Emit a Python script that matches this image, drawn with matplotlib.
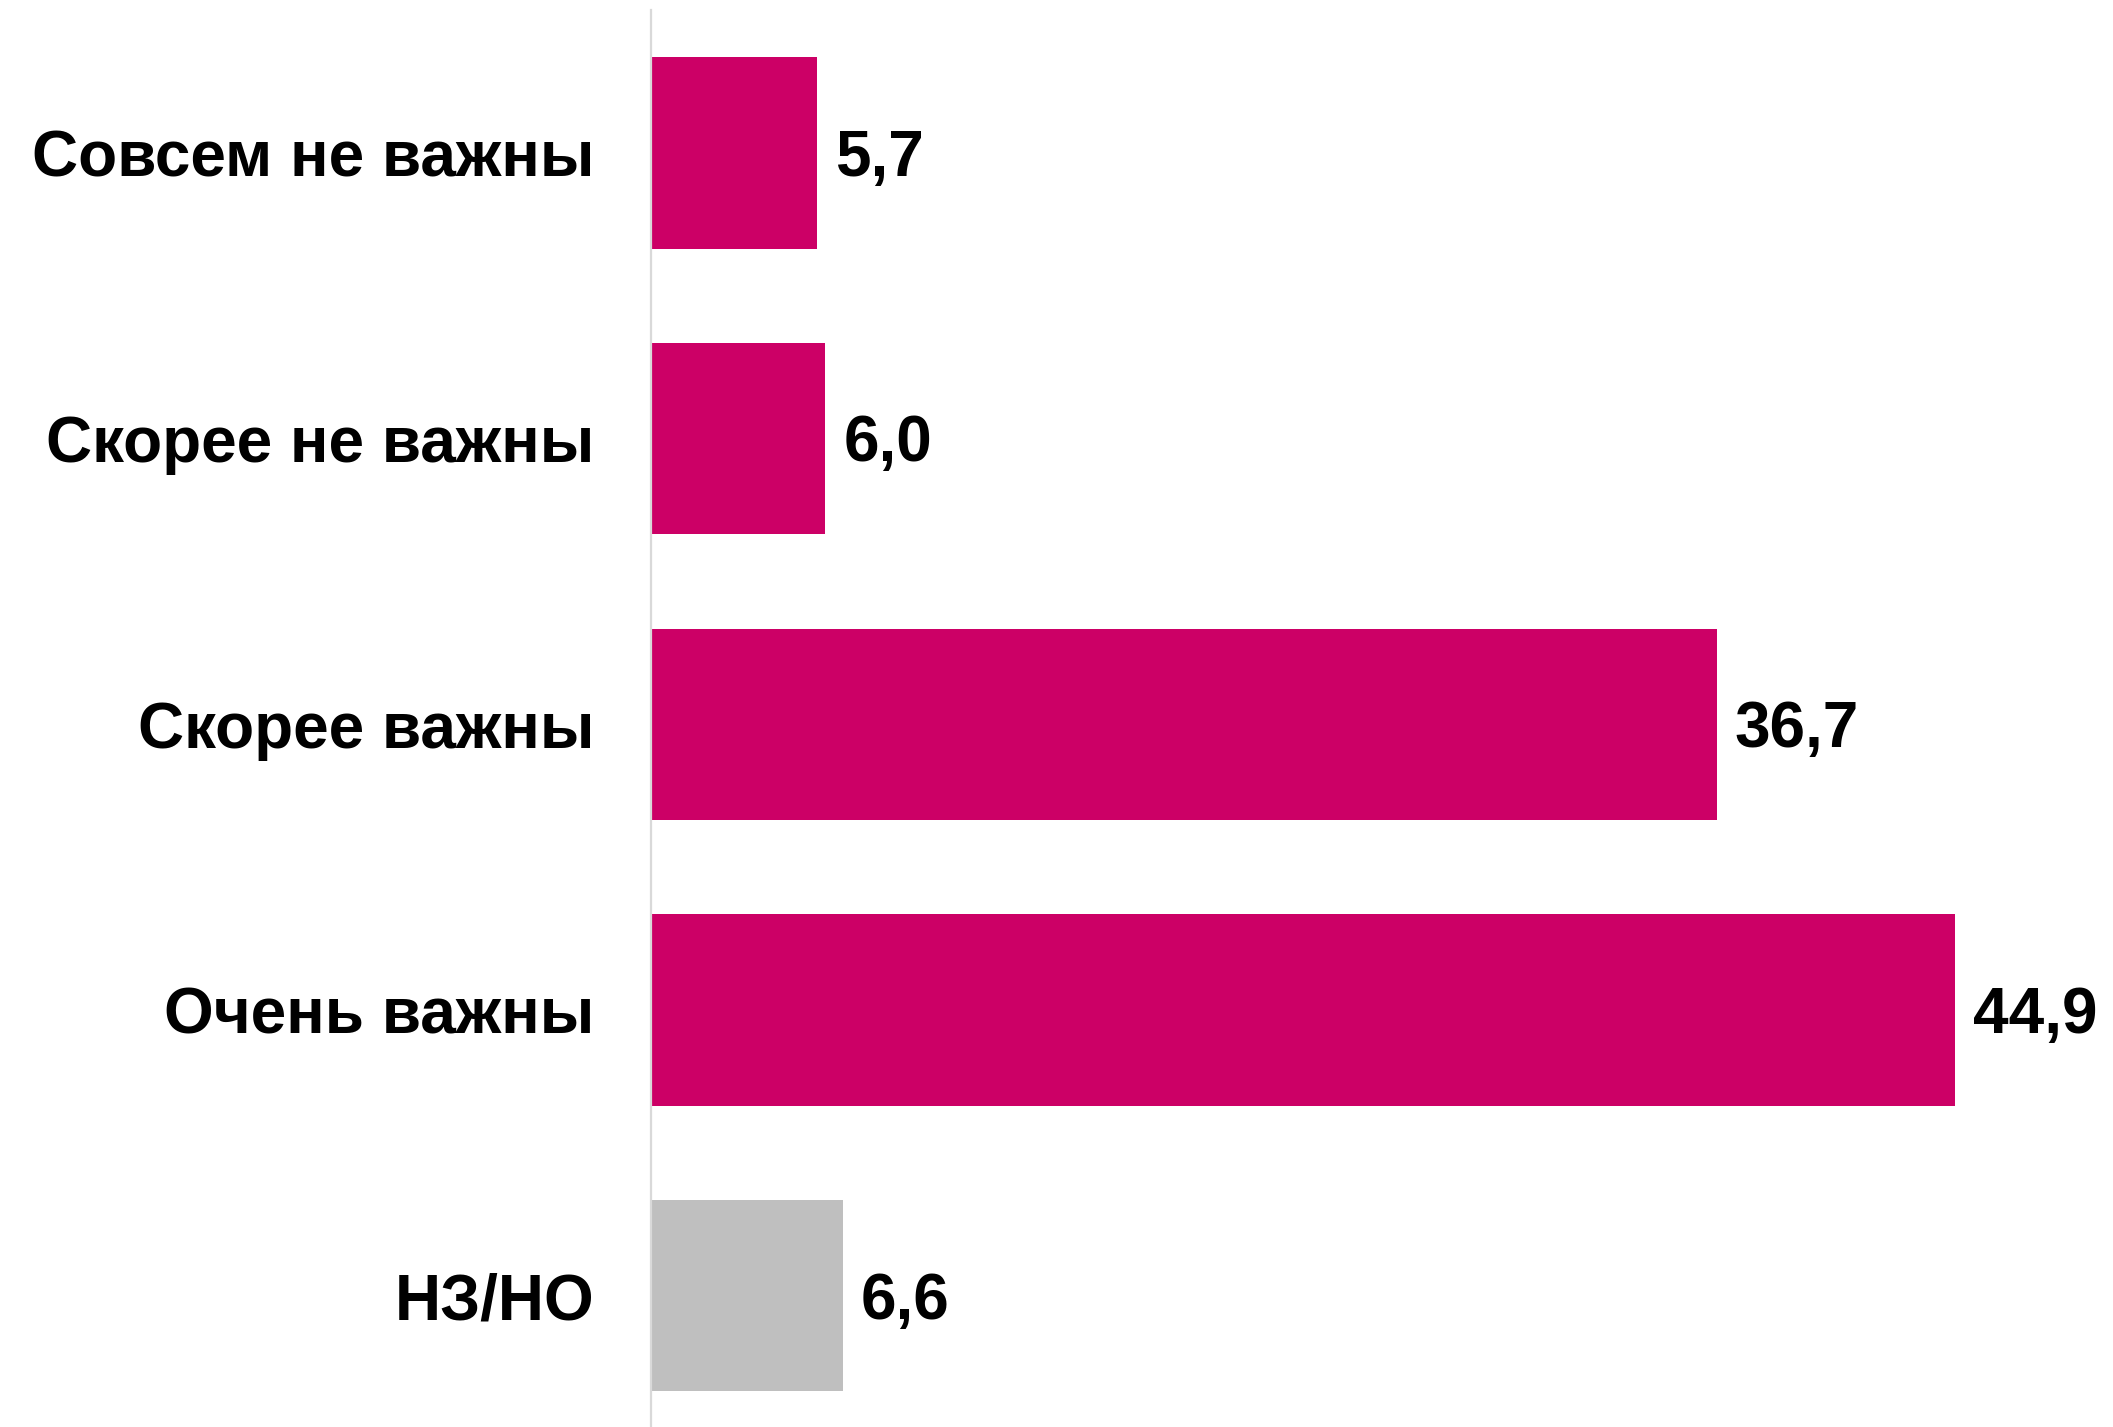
import matplotlib
matplotlib.use("Agg")
from matplotlib import pyplot as plt

categories = ["Совсем не важны", "Скорее не важны", "Скорее важны", "Очень важны", "НЗ/НО"]
values = [5.7, 6.0, 36.7, 44.9, 6.6]
labels = ["5,7", "6,0", "36,7", "44,9", "6,6"]
colors = ["#CC0066", "#CC0066", "#CC0066", "#CC0066", "#BFBFBF"]

plt.rcParams["font.family"] = ["Liberation Sans", "DejaVu Sans"]

fig = plt.figure(figsize=(21.13, 14.27), dpi=100)
ax = fig.add_axes([651 / 2113, 0, (2113 - 651) / 2113, 1 - 10 / 1427])

y = range(len(categories))
ax.barh(y, values, height=0.67, color=colors)

# value labels: digits centred on the bar
for yi, v, lab in zip(y, values, labels):
    ax.annotate(lab, (v, yi), xytext=(13, -16.5), textcoords="offset points",
                va="baseline", ha="left", fontsize=46, fontweight="bold",
                color="black")

ax.set_xlim(0, 50.34)
ax.set_ylim(4.46, -0.5)

ax.set_yticks(list(y))
ax.set_yticklabels(categories, fontsize=46, fontweight="bold")
ax.tick_params(axis="y", length=0, pad=41)
ax.set_xticks([])

for side in ["top", "right", "bottom"]:
    ax.spines[side].set_visible(False)
ax.spines["left"].set_color("#D9D9D9")
ax.spines["left"].set_linewidth(1.6)

fig.savefig("out.png", dpi=100)
